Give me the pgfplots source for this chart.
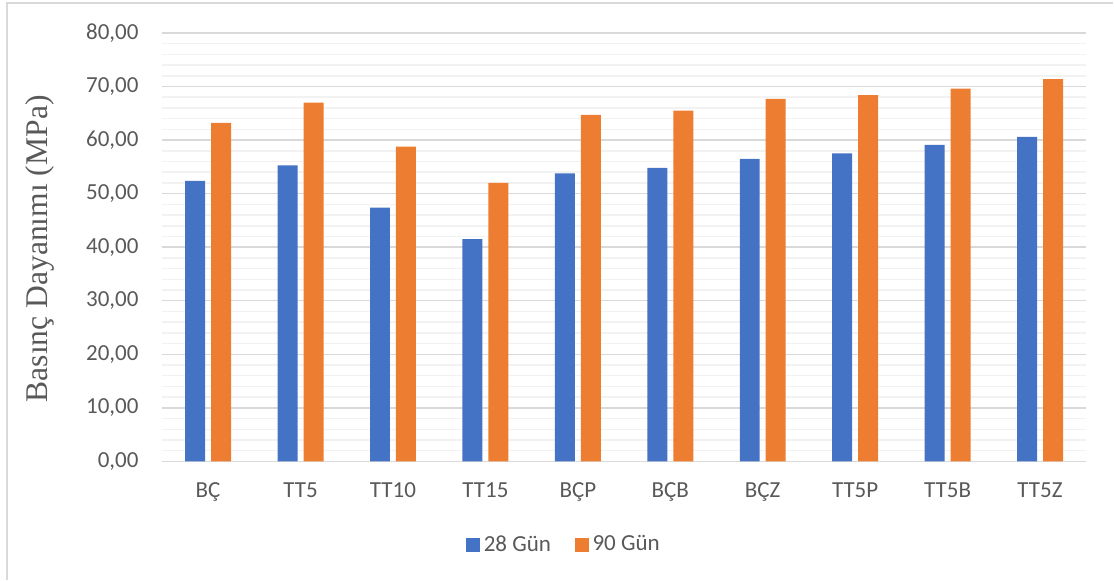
\documentclass[border=0pt]{standalone}
\usepackage{pgfplots}
\pgfplotsset{compat=1.18}
\usepackage{fontspec}
\setmainfont{Carlito}
\newfontfamily\timesfont{Liberation Serif}

\definecolor{blue28}{HTML}{4472C4}
\definecolor{orange90}{HTML}{ED7D31}
\definecolor{txt}{HTML}{595959}
\definecolor{majgrid}{HTML}{D9D9D9}
\definecolor{mingrid}{HTML}{F2F2F2}

\newcommand\tickfont{\fontsize{11.5}{13.8}\selectfont}

\begin{document}
\begin{tikzpicture}[x=1pt,y=1pt]
% chart area (1 px of the reference = 0.5pt)
\path (0,0) rectangle (557,290);
\draw[majgrid, line width=0.75pt] (3.5,0) -- (3.5,288.5) -- (557,288.5);

\begin{axis}[
    at={(81pt,59.15pt)}, anchor=south west,
    scale only axis, width=462.5pt, height=214.35pt,
    ybar=3pt, bar width=10pt,
    xmin=-0.5, xmax=9.5, ymin=0, ymax=80,
    xtick=data,
    xticklabels={BÇ,TT5,TT10,TT15,BÇP,BÇB,BÇZ,TT5P,TT5B,TT5Z},
    ytick={0,10,...,80}, minor y tick num=4,
    ymajorgrids, yminorgrids,
    major grid style={majgrid, line width=0.75pt},
    minor grid style={mingrid, line width=0.75pt},
    axis line style={draw=none},
    tick style={draw=none},
    major tick length=0pt, minor tick length=0pt,
    /pgf/number format/.cd, fixed, fixed zerofill, precision=2, use comma, assume math mode=true,
    /pgfplots/.cd,
    yticklabel style={text=txt, font=\tickfont, xshift=-8.2pt},
    xticklabel style={text=txt, font=\tickfont, text height=7.4pt, text depth=0pt, yshift=-7pt},
    legend style={at={(rel axis cs:0.436,-0.1945)}, anchor=center, draw=none,
        font=\tickfont, text=txt, legend columns=2,
        /tikz/every even column/.append style={column sep=10pt}},
    legend image code/.code={\fill[#1] (0pt,-3.4pt) rectangle (6.8pt,3.4pt);},
]
\addplot[draw=none, fill=blue28] coordinates {
    (0,52.4) (1,55.3) (2,47.4) (3,41.5) (4,53.8)
    (5,54.8) (6,56.5) (7,57.5) (8,59.1) (9,60.6)};
\addlegendentry{28 Gün}
\addplot[draw=none, fill=orange90] coordinates {
    (0,63.2) (1,67.0) (2,58.8) (3,52.0) (4,64.7)
    (5,65.5) (6,67.7) (7,68.4) (8,69.6) (9,71.4)};
\addlegendentry{90 Gün}
\end{axis}

\node[rotate=90, font=\timesfont\fontsize{15.8}{19}\selectfont, text=txt]
    at (20pt,165.5pt) {Basınç Dayanımı (MPa)};
\end{tikzpicture}
\end{document}
